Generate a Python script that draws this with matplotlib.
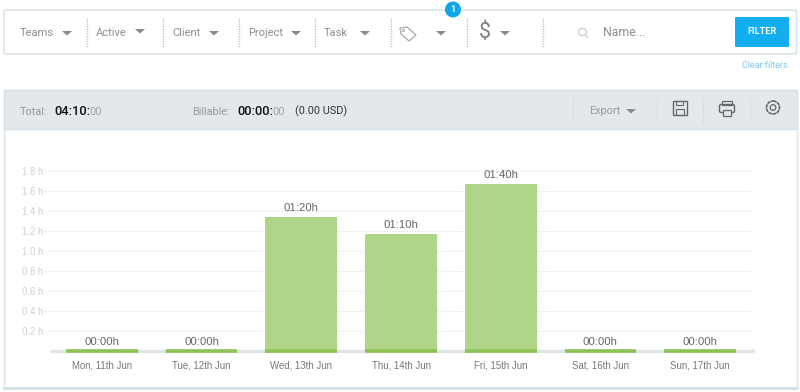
import matplotlib
matplotlib.use("Agg")
import matplotlib.pyplot as plt
from matplotlib.patches import Rectangle, Circle, Polygon, FancyBboxPatch

plt.rcParams['font.family'] = ['Roboto', 'DejaVu Sans']

days = ["Mon, 11th Jun", "Tue, 12th Jun", "Wed, 13th Jun", "Thu, 14th Jun",
        "Fri, 15th Jun", "Sat, 16th Jun", "Sun, 17th Jun"]
hours = [0, 0, 1.3333, 1.1667, 1.6667, 0, 0]
bar_labels = ["00:00h", "00:00h", "01:20h", "01:10h", "01:40h", "00:00h", "00:00h"]
y_ticks = [0.2, 0.4, 0.6, 0.8, 1.0, 1.2, 1.4, 1.6, 1.8]

filters = ["Teams", "Active", "Client", "Project", "Task"]
filter_x = [20, 96, 172, 248, 324]
arrow_x = [67, 140, 214, 296, 365, 441, 505]
arrow_y = [33, 31, 33, 33, 33, 33, 33]
sep_x = [87, 163, 239, 315, 391, 467, 543]

fig = plt.figure(figsize=(8, 3.92), dpi=100)

# page layer in pixel coordinates
ui = fig.add_axes([0, 0, 1, 1])
ui.set_xlim(0, 800)
ui.set_ylim(392, 0)
ui.axis("off")

def arrow(ax, x, y, color="#8a8a8a", w=5):
    ax.add_patch(Polygon([(x - w, y - 2), (x + w, y - 2), (x, y + 2.5)], color=color, lw=0))

# filter box
ui.add_patch(FancyBboxPatch((4, 10), 792.5, 44, boxstyle="round,pad=0,rounding_size=1.5",
                            fc="white", ec="#d6e0e6", lw=1))
for name, x in zip(filters, filter_x):
    ui.text(x, 33, name, fontsize=8, color="#8f8f8f", va="center")
for x, y in zip(arrow_x, arrow_y):
    arrow(ui, x, y)
for x in sep_x:
    ui.plot([x, x], [18, 48], color="#bdbdbd", lw=0.9, ls=(0, (1, 1)))

# tag icon
ui.add_patch(Polygon([(400, 28), (407, 27), (416, 35), (409, 41), (401, 34)],
                     fc="none", ec="#a8a8a8", lw=0.9))
ui.add_patch(Circle((403.5, 30.5), 1, fc="none", ec="#a8a8a8", lw=0.7))
ui.text(485, 32, "$", fontsize=15.5, color="#808080", ha="center", va="center")

# badge
ui.add_patch(Circle((453, 9.5), 8, color="#0ea5ea", lw=0))
ui.text(453, 9.5, "1", fontsize=6.5, color="white", ha="center", va="center", fontweight="bold")

# search
ui.add_patch(Circle((582.5, 32), 3.8, fc="none", ec="#c4c4c4", lw=0.8))
ui.plot([585.5, 588], [35, 37.5], color="#c4c4c4", lw=0.8)
ui.text(603, 32, "Name...", fontsize=8.9, color="#8f8f8f", va="center")

# filter button
ui.add_patch(FancyBboxPatch((735, 17), 54, 30, boxstyle="round,pad=0,rounding_size=1",
                            fc="#12aef0", ec="none"))
ui.text(762, 31.5, "FILTER", fontsize=6.7, color="white", ha="center", va="center", fontweight="bold")
ui.text(788, 65, "Clear filters", fontsize=6.5, color="#7cc8f0", ha="right", va="center")

# white panel with header
ui.add_patch(Rectangle((4, 89.5), 792.5, 298, fc="white", ec="#dbe5ec", lw=1))
ui.plot([4, 797], [388, 388], color="#d3dfe5", lw=2)
ui.add_patch(Rectangle((4, 89.5), 792.5, 39, fc="#e3e8ec", ec="#d6e0e8", lw=1))

ui.text(20, 111.5, "Total:", fontsize=7.8, color="#999999", va="center")
ui.text(54, 111, "04:10:", fontsize=9.3, color="#111111", va="center", fontweight="medium")
ui.text(89, 111.5, "00", fontsize=8, color="#a5a5a5", va="center")
ui.text(192, 111.5, "Billable:", fontsize=7.8, color="#999999", va="center")
ui.text(237, 111, "00:00:", fontsize=9.3, color="#111111", va="center", fontweight="medium")
ui.text(272, 111.5, "00", fontsize=8, color="#a5a5a5", va="center")
ui.text(295, 111.5, "(0.00 USD)", fontsize=7.8, color="#333333", va="center")
ui.text(589, 111, "Export", fontsize=7.8, color="#999999", va="center")
arrow(ui, 631, 111)
for x in [573, 656.5, 703, 750]:
    ui.plot([x, x], [99, 122], color="#cfd4d8", lw=0.8, ls=(0, (1, 1)))

# save icon
ui.add_patch(Rectangle((673, 100.5), 14, 14.5, fc="none", ec="#666666", lw=1))
ui.add_patch(Rectangle((676, 100.5), 7, 4.5, fc="none", ec="#666666", lw=0.8))
ui.add_patch(Rectangle((676, 108.5), 8, 6.5, fc="none", ec="#666666", lw=0.8))
# print icon
ui.add_patch(Rectangle((722, 100.5), 10, 4, fc="none", ec="#666666", lw=0.9))
ui.add_patch(FancyBboxPatch((719.5, 104.5), 15, 8, boxstyle="round,pad=0,rounding_size=1.5",
                            fc="none", ec="#666666", lw=1))
ui.add_patch(Rectangle((723, 109.5), 8, 6, fc="#e3e8ec", ec="#666666", lw=0.9))
# gear icon
ui.add_patch(Circle((773, 107.5), 6.5, fc="none", ec="#666666", lw=1.2, ls=(0, (2.2, 0.4))))
ui.add_patch(Circle((773, 107.5), 2.8, fc="none", ec="#666666", lw=0.9))

# chart layer, placed so that its data scale lines up with the page pixels
left, right, top, bottom = 52, 750, 150.5, 351
ax = fig.add_axes([left / 800, 1 - bottom / 392, (right - left) / 800, (bottom - top) / 392])
ax.patch.set_alpha(0)
x_pos = list(range(len(days)))
ax.set_xlim(-0.5, 6.5)
ax.set_ylim(0, 2.0)

ax.set_yticks(y_ticks)
ax.set_yticklabels([f"{v:.1f} h" for v in y_ticks], fontfamily=["Liberation Sans", "DejaVu Sans"])
ax.tick_params(axis="y", length=0, labelsize=6.9, labelcolor="#d0d0d0", pad=6)
ax.set_xticks(x_pos)
ax.set_xticklabels(days, fontfamily=["Liberation Sans", "DejaVu Sans"])
ax.tick_params(axis="x", length=0, labelsize=6.9, labelcolor="#777777", pad=6.5)
# grid runs past the axes on both sides, up to the tick labels
ax.hlines(y_ticks, -0.01, 1.002, transform=ax.get_yaxis_transform(), color="#dddddd",
          lw=0.8, ls=(0, (1, 1.5)), clip_on=False, zorder=1)
for s in ax.spines.values():
    s.set_visible(False)

ax.plot([0, 1.005], [0, 0], transform=ax.get_yaxis_transform(), color="#dfe4e9", lw=2.4,
        clip_on=False, zorder=2)
ax.bar(x_pos, hours, width=0.72, color="#afd688", zorder=3)
# darker strip at the foot of every bar
ax.hlines([0] * len(x_pos), [p - 0.36 for p in x_pos], [p + 0.36 for p in x_pos],
          color="#8dc152", lw=2.6, zorder=4, clip_on=False)
for p, h, lab in zip(x_pos, hours, bar_labels):
    ax.annotate(lab, (p, h), xytext=(0, 3), textcoords="offset points", ha="center",
                va="bottom", fontsize=8.2, color="#666666",
                fontfamily=["Liberation Sans", "DejaVu Sans"], zorder=5)

fig.savefig("out.png", dpi=100)
